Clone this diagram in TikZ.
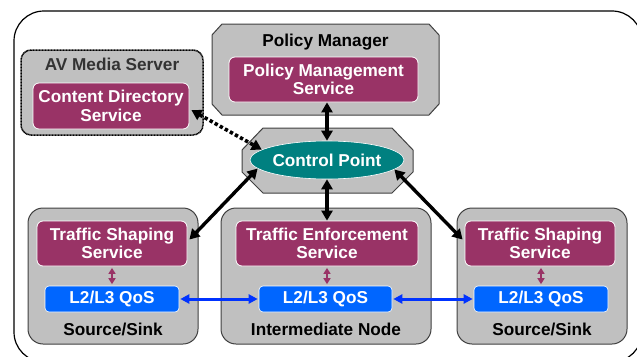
\documentclass[tikz,border=0pt]{standalone}
\usepackage{fontspec}
\setmainfont{Liberation Sans}
\usetikzlibrary{arrows.meta,shapes.geometric}
\definecolor{boxgray}{HTML}{C0C0C0}
\definecolor{svc}{HTML}{993366}
\definecolor{qos}{HTML}{0066FF}
\definecolor{qosarrow}{HTML}{0033FF}
\definecolor{cpcol}{HTML}{008080}
\definecolor{edge}{HTML}{404040}
\tikzset{
  txt/.style={font=\fontsize{17.2}{18.5}\selectfont\bfseries, align=center, inner sep=0pt},
  container/.style={draw=edge, line width=1pt, fill=boxgray, rounded corners=15pt, inner sep=0pt},
  octo/.style={draw=edge, line width=1pt, fill=boxgray},
  svcbox/.style={txt, draw=white, line width=0.8pt, fill=svc, text=white, rounded corners=6pt},
  qosbox/.style={txt, draw=white, line width=0.6pt, fill=qos, text=white, rounded corners=4pt},
  bigarrow/.style={line width=3.4pt, {Triangle[length=10pt,width=11pt]}-{Triangle[length=10pt,width=11pt]}},
  dotarrow/.style={line width=3.6pt, dash pattern=on 3.4pt off 2.4pt, {Triangle[length=10pt,width=11pt]}-{Triangle[length=10pt,width=11pt]}},
  bluearrow/.style={draw=qosarrow, line width=3pt, {Triangle[length=9pt,width=9pt]}-{Triangle[length=9pt,width=9pt]}, shorten <=1pt, shorten >=1pt},
  purarrow/.style={draw=svc, line width=2.2pt, {Triangle[length=6pt,width=7pt]}-{Triangle[length=6pt,width=7pt]}, shorten <=1.5pt, shorten >=1.5pt}
}
\begin{document}
\begin{tikzpicture}[x=1pt,y=-1pt]
\useasboundingbox (0,0) rectangle (637,356);
\begin{scope}
\clip (0,0) rectangle (637,356);
\draw[line width=1.2pt, rounded corners=30pt] (14,11) rectangle (642,362);
\end{scope}

% AV Media Server
\node[draw=black, line width=1.5pt, dash pattern=on 1pt off 0.5pt, fill=boxgray, rounded corners=10pt,
      minimum width=182pt, minimum height=85pt, inner sep=0pt] (avms) at (112,92.5) {};
\node[txt, text=black!80] (avmslbl) at (112,64.5) {AV Media Server};
\node[svcbox, minimum width=156pt, minimum height=46pt] (cds) at (111,106) {Content Directory\\Service};

% Policy Manager octagon
\draw[octo] (222,24) -- (429,24) -- (439,35) -- (439,104) -- (429,115) -- (222,115) -- (212,104) -- (212,35) -- cycle;
\node[txt] (pmlbl) at (325.5,42) {Policy Manager};
\node[svcbox, minimum width=189pt, minimum height=45pt] (pms) at (323.5,79.5) {Policy Management\\Service};

% Control Point octagon
\draw[octo] (263,128) -- (392,128) -- (413,150) -- (413,172) -- (392,193) -- (263,193) -- (242,172) -- (242,150) -- cycle;
\node[txt, ellipse, draw=white, line width=0.6pt, fill=cpcol, text=white, minimum width=144pt, minimum height=38pt] (cp) at (327,160) {Control Point};

% Bottom containers
\node[container, minimum width=170pt, minimum height=136pt] (left) at (113,276) {};
\node[container, minimum width=210pt, minimum height=136pt] (mid) at (326,276) {};
\node[container, minimum width=170pt, minimum height=136pt] (right) at (542,276) {};

\node[svcbox, minimum width=150pt, minimum height=45pt] (ts1) at (112,243.5) {Traffic Shaping\\Service};
\node[svcbox, minimum width=182pt, minimum height=45pt] (te) at (327,243.5) {Traffic Enforcement\\Service};
\node[svcbox, minimum width=150pt, minimum height=45pt] (ts2) at (540,243.5) {Traffic Shaping\\Service};

\node[qosbox, minimum width=134pt, minimum height=26pt] (q1) at (112,299) {L2/L3 QoS};
\node[qosbox, minimum width=133pt, minimum height=26pt] (q2) at (325.5,299) {L2/L3 QoS};
\node[qosbox, minimum width=134pt, minimum height=26pt] (q3) at (541,299) {L2/L3 QoS};

\node[txt] (l1) at (113,329) {Source/Sink};
\node[txt] (l2) at (326,329) {Intermediate Node};
\node[txt] (l3) at (542,329) {Source/Sink};

% Connectors
\draw[bigarrow] (cp.north |- pms.south) -- (cp.north);
\draw[bigarrow] (cp.south) -- (cp.south |- te.north);
\draw[bigarrow] (cp.187) -- ([xshift=2pt]ts1.3);
\draw[bigarrow] (cp.352) -- ([xshift=-2pt]ts2.177);
\draw[dotarrow] ([xshift=2pt]cds.-3) -- (cp.171);

\draw[bluearrow] (q1.east) -- (q2.west);
\draw[bluearrow] (q2.east) -- (q3.west);

\draw[purarrow] (ts1.south) -- (q1.north);
\draw[purarrow] (te.south) -- (te.south |- q2.north);
\draw[purarrow] (q3.north |- ts2.south) -- (q3.north);
\end{tikzpicture}
\end{document}
